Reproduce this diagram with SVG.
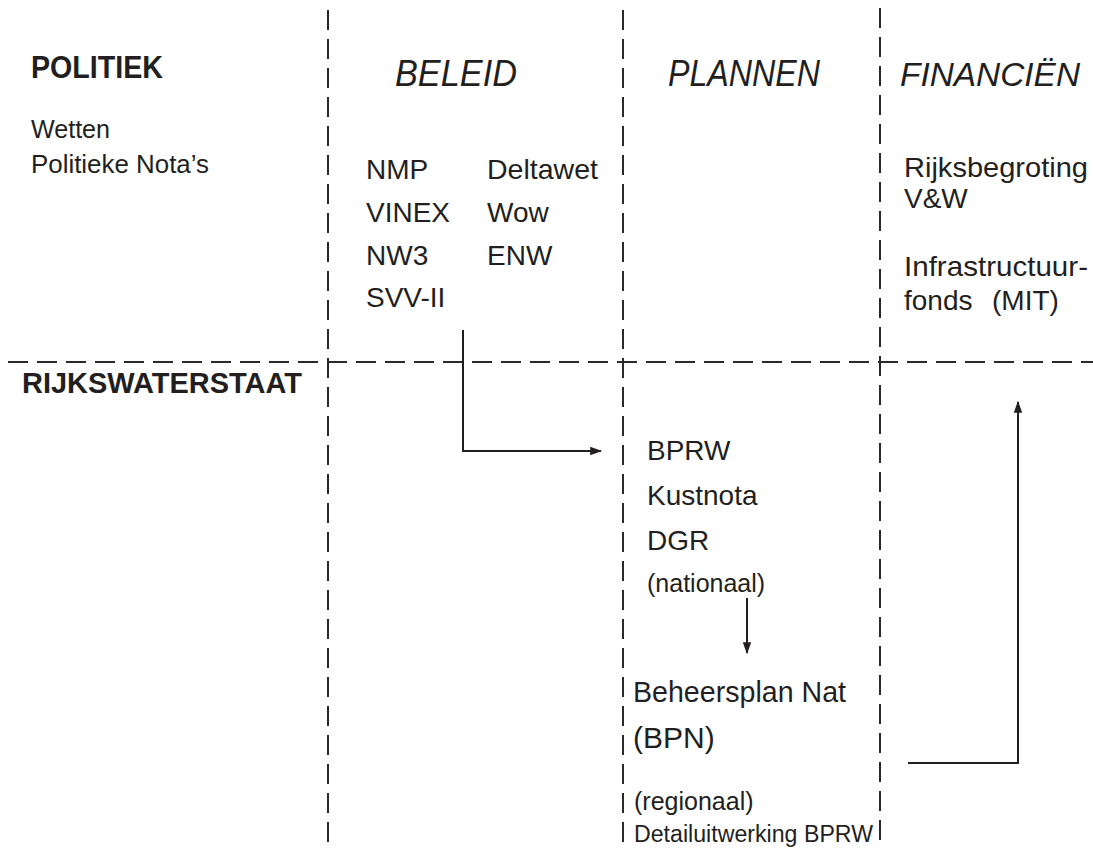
<svg xmlns="http://www.w3.org/2000/svg" width="1093" height="849" viewBox="0 0 1093 849">
<style>
text{font-family:"Liberation Sans",Arial,sans-serif;fill:#231f20}
.b{font-weight:bold}
.h{font-style:italic;font-size:37px}
.t{font-size:28px}
.s{font-size:25px}
.d{stroke:#2a2a2a;stroke-width:2;stroke-dasharray:20 9;fill:none}
.c{stroke:#231f20;stroke-width:2;fill:none}
</style>
<defs>
<marker id="ah" viewBox="0 0 10 10" refX="9" refY="5" markerWidth="12" markerHeight="12" markerUnits="userSpaceOnUse" orient="auto"><path d="M0,1.5 L10,5 L0,8.5 Z" fill="#231f20"/></marker>
</defs>
<rect width="1093" height="849" fill="#fff"/>
<g id="grid">
<line class="d" x1="328" y1="10" x2="328" y2="849"/>
<line class="d" x1="623" y1="10" x2="623" y2="849"/>
<line class="d" x1="880" y1="8" x2="880" y2="849"/>
<line class="d" x1="8" y1="362" x2="1093" y2="362"/>
</g>
<g id="politiek">
<text class="b" x="31" y="78" font-size="31" textLength="132" lengthAdjust="spacingAndGlyphs">POLITIEK</text>
<text x="31" y="138" font-size="26" textLength="79" lengthAdjust="spacingAndGlyphs">Wetten</text>
<text x="31" y="173" font-size="26" textLength="178" lengthAdjust="spacingAndGlyphs">Politieke Nota’s</text>
</g>
<g id="beleid">
<text class="h" x="395" y="86" textLength="122" lengthAdjust="spacingAndGlyphs">BELEID</text>
<text class="t" x="366" y="179">NMP</text>
<text class="t" x="366" y="222">VINEX</text>
<text class="t" x="366" y="265">NW3</text>
<text class="t" x="366" y="307">SVV-II</text>
<text class="t" x="487" y="179" textLength="111" lengthAdjust="spacingAndGlyphs">Deltawet</text>
<text class="t" x="487" y="222">Wow</text>
<text class="t" x="487" y="265">ENW</text>
</g>
<g id="plannen">
<text class="h" x="668" y="86" textLength="152" lengthAdjust="spacingAndGlyphs">PLANNEN</text>
</g>
<g id="financien">
<text x="900" y="86" font-style="italic" font-size="34" textLength="180" lengthAdjust="spacingAndGlyphs">FINANCIËN</text>
<text class="t" x="904" y="177" textLength="184" lengthAdjust="spacingAndGlyphs">Rijksbegroting</text>
<text class="t" x="904" y="208">V&amp;W</text>
<text class="t" x="904" y="276" textLength="184" lengthAdjust="spacingAndGlyphs">Infrastructuur-</text>
<text class="t" x="904" y="310">fonds</text>
<text class="t" x="992" y="310">(MIT)</text>
</g>
<g id="rijkswaterstaat">
<text class="b" x="22" y="393" font-size="29" textLength="280" lengthAdjust="spacingAndGlyphs">RIJKSWATERSTAAT</text>
</g>
<g id="nationaal">
<text class="t" x="647" y="460">BPRW</text>
<text class="t" x="647" y="505">Kustnota</text>
<text class="t" x="647" y="550">DGR</text>
<text class="s" x="647" y="592">(nationaal)</text>
</g>
<g id="regionaal">
<text x="633" y="702" font-size="30" textLength="213" lengthAdjust="spacingAndGlyphs">Beheersplan Nat</text>
<text x="633" y="748" font-size="30">(BPN)</text>
<text class="s" x="634" y="810">(regionaal)</text>
<text x="634" y="842" font-size="23" textLength="239" lengthAdjust="spacingAndGlyphs">Detailuitwerking BPRW</text>
</g>
<g id="connectors">
<path class="c" d="M463,330 V451 H601" marker-end="url(#ah)"/>
<path class="c" d="M747,598 V653" marker-end="url(#ah)"/>
<path class="c" d="M908,763 H1018 V402" marker-end="url(#ah)"/>
</g>
</svg>
